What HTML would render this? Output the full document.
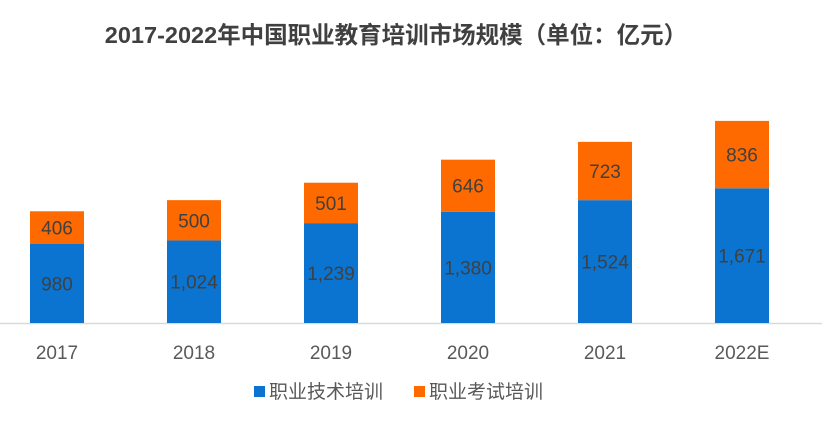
<!DOCTYPE html>
<html><head><meta charset="utf-8"><style>
body{margin:0;background:#fff;}
svg{display:block;font-family:"Liberation Sans","Noto Sans CJK SC",sans-serif;}
</style></head><body>
<svg width="831" height="426" viewBox="0 0 831 426">
<text x="396" y="43" text-anchor="middle" font-size="23.5" font-weight="bold" fill="#404040">2017-2022年中国职业教育培训市场规模（单位：亿元）</text>
<line x1="0" y1="323.5" x2="822" y2="323.5" stroke="#d9d9d9" stroke-width="1.5"/>
<g id="bars"></g>
<g>
<rect x="254" y="386" width="11" height="11" fill="#0a74d0"/>
<text x="269" y="398" font-size="19" fill="#595959">职业技术培训</text>
<rect x="414" y="386" width="11" height="11" fill="#fe6a00"/>
<text x="429" y="398" font-size="19" fill="#595959">职业考试培训</text>
</g>
</svg>
<script>
const categories=["2017","2018","2019","2020","2021","2022E"];
const techValues=[980,1024,1239,1380,1524,1671];
const examValues=[406,500,501,646,723,836];
const techLabels=["980","1,024","1,239","1,380","1,524","1,671"];
const examLabels=["406","500","501","646","723","836"];
const NS="http://www.w3.org/2000/svg";
const g=document.getElementById('bars');
const baseY=323, scale=79/980, x0=30, step=137, bw=54;
const xPos=i=>x0+i*step;
const yPos=v=>baseY-v*scale;
function mk(t,a){const e=document.createElementNS(NS,t);for(const k in a)e.setAttribute(k,a[k]);g.appendChild(e);return e;}
categories.forEach((c,i)=>{
  const x=xPos(i);
  const yt=yPos(techValues[i]), ye=yPos(techValues[i]+examValues[i]);
  const b=mk('rect',{x:x,y:yt,width:bw,height:baseY-yt,fill:'#0a74d0'});
  
  
  const o=mk('rect',{x:x,y:ye,width:bw,height:yt-ye,fill:'#fe6a00'});
  
  
  const t1=mk('text',{x:x+bw/2,y:(yt+baseY)/2+7,'text-anchor':'middle','font-size':'19',fill:'#404040'});
  t1.textContent=techLabels[i];
  
  
  const t2=mk('text',{x:x+bw/2,y:(ye+yt)/2+7,'text-anchor':'middle','font-size':'19',fill:'#404040'});
  t2.textContent=examLabels[i];
  
  
  const xl=mk('text',{x:x+bw/2,y:359,'text-anchor':'middle','font-size':'19',fill:'#595959'});
  xl.textContent=c;
  
  
});
</script>
</body></html>
